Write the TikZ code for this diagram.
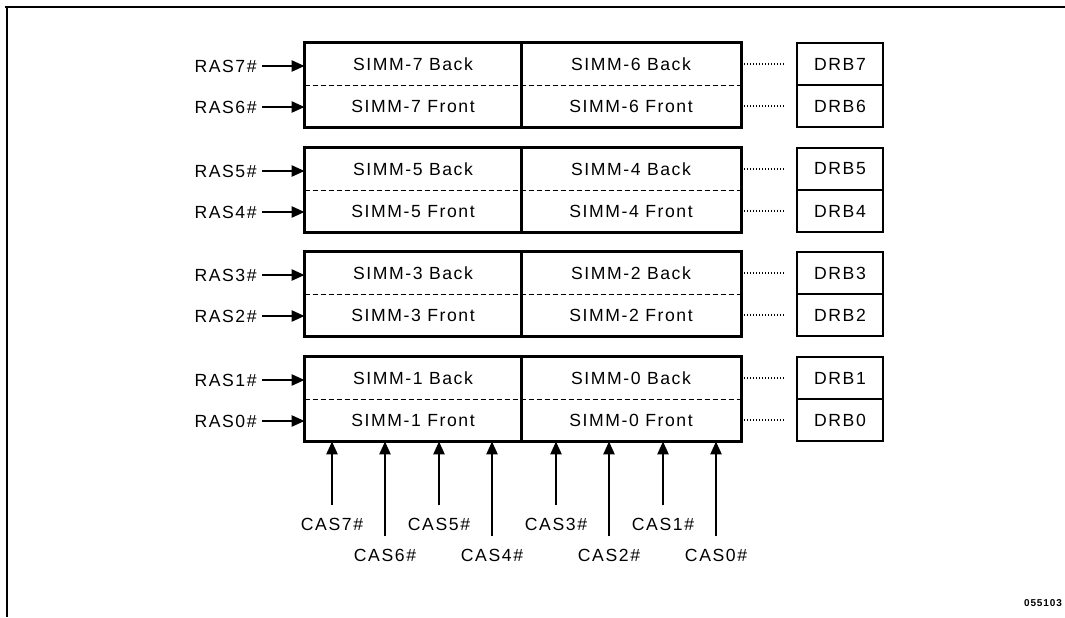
\documentclass[tikz,border=0pt]{standalone}
\usepackage{fontspec}
\setmainfont[LetterSpace=9]{Liberation Sans}
\usetikzlibrary{arrows.meta, positioning, calc}

\tikzset{
  cell/.style={minimum width=108pt, minimum height=21pt, inner sep=0pt},
  drbbox/.style={draw, line width=1.2pt, minimum width=43pt, minimum height=21pt, inner sep=0pt},
  sig/.style={line width=1.2pt, -{Triangle[length=6.5pt,width=5.5pt]}},
  sigtxt/.style={inner sep=0pt},
  dots/.style={line width=0.7pt, dash pattern=on 0.5pt off 1pt},
}

\begin{document}
\begin{tikzpicture}[x=0.5pt, y=-0.5pt, font=\fontsize{8.8}{10}\selectfont]
  \useasboundingbox (0,0) rectangle (1065,617);
  \draw[line width=1.2pt] (5,7) -- (1065,7);
  \draw[line width=1.2pt] (7,7) -- (7,617);
  % four SIMM pairs with their RAS inputs and DRB registers
  \foreach \g/\ty/\ma/\mb in {3/43/7/6, 2/148/5/4, 1/252/3/2, 0/357/1/0} {
    \node[cell] (simmlb\g) at (413,\ty+21) {SIMM-\ma\ Back};
    \node[cell, minimum width=110pt] (simmrb\g) at (631,\ty+21) {SIMM-\mb\ Back};
    \node[cell] (simmlf\g) at (413,\ty+63) {SIMM-\ma\ Front};
    \node[cell, minimum width=110pt] (simmrf\g) at (631,\ty+63) {SIMM-\mb\ Front};
    \draw[line width=1.2pt] (simmlb\g.north west) rectangle (simmrf\g.south east);
    \draw[line width=1.2pt] (simmlb\g.north east) -- (simmlf\g.south east);
    \draw[line width=0.8pt, dash pattern=on 2.5pt off 1.5pt]
        (simmlb\g.south west) -- (simmrb\g.south east);
    \node[drbbox] (drb\ma) at (840,\ty+21) {DRB\ma};
    \node[drbbox] (drb\mb) at (840,\ty+63) {DRB\mb};
    \node[sigtxt, anchor=east] (ras\ma) at (257,\ty+23) {RAS\ma\#};
    \node[sigtxt, anchor=east] (ras\mb) at (257,\ty+64) {RAS\mb\#};
    \draw[sig, shorten <=2.5pt] (ras\ma.east) -- (ras\ma.east -| simmlb\g.west);
    \draw[sig, shorten <=2.5pt] (ras\mb.east) -- (ras\mb.east -| simmlf\g.west);
    \draw[dots, shorten <=1.5pt, shorten >=6pt] (simmrb\g.east) -- (drb\ma.west);
    \draw[dots, shorten <=1.5pt, shorten >=6pt] (simmrf\g.east) -- (drb\mb.west);
  }
  % CAS inputs below the bottom pair
  \foreach \c/\x/\ly in {7/332/524, 6/385/555, 5/439/524, 4/492/555,
                         3/556/524, 2/609/555, 1/663/524, 0/716/555} {
    \node[sigtxt] (cas\c) at (\x,\ly) {CAS\c\#};
    \draw[sig, shorten <=6pt] (cas\c.north) -- (cas\c.north |- simmlf0.south);
  }
  \node[sigtxt, font=\fontsize{5}{6}\selectfont\bfseries] (fignum) at (1043,603) {055103};
\end{tikzpicture}
\end{document}
